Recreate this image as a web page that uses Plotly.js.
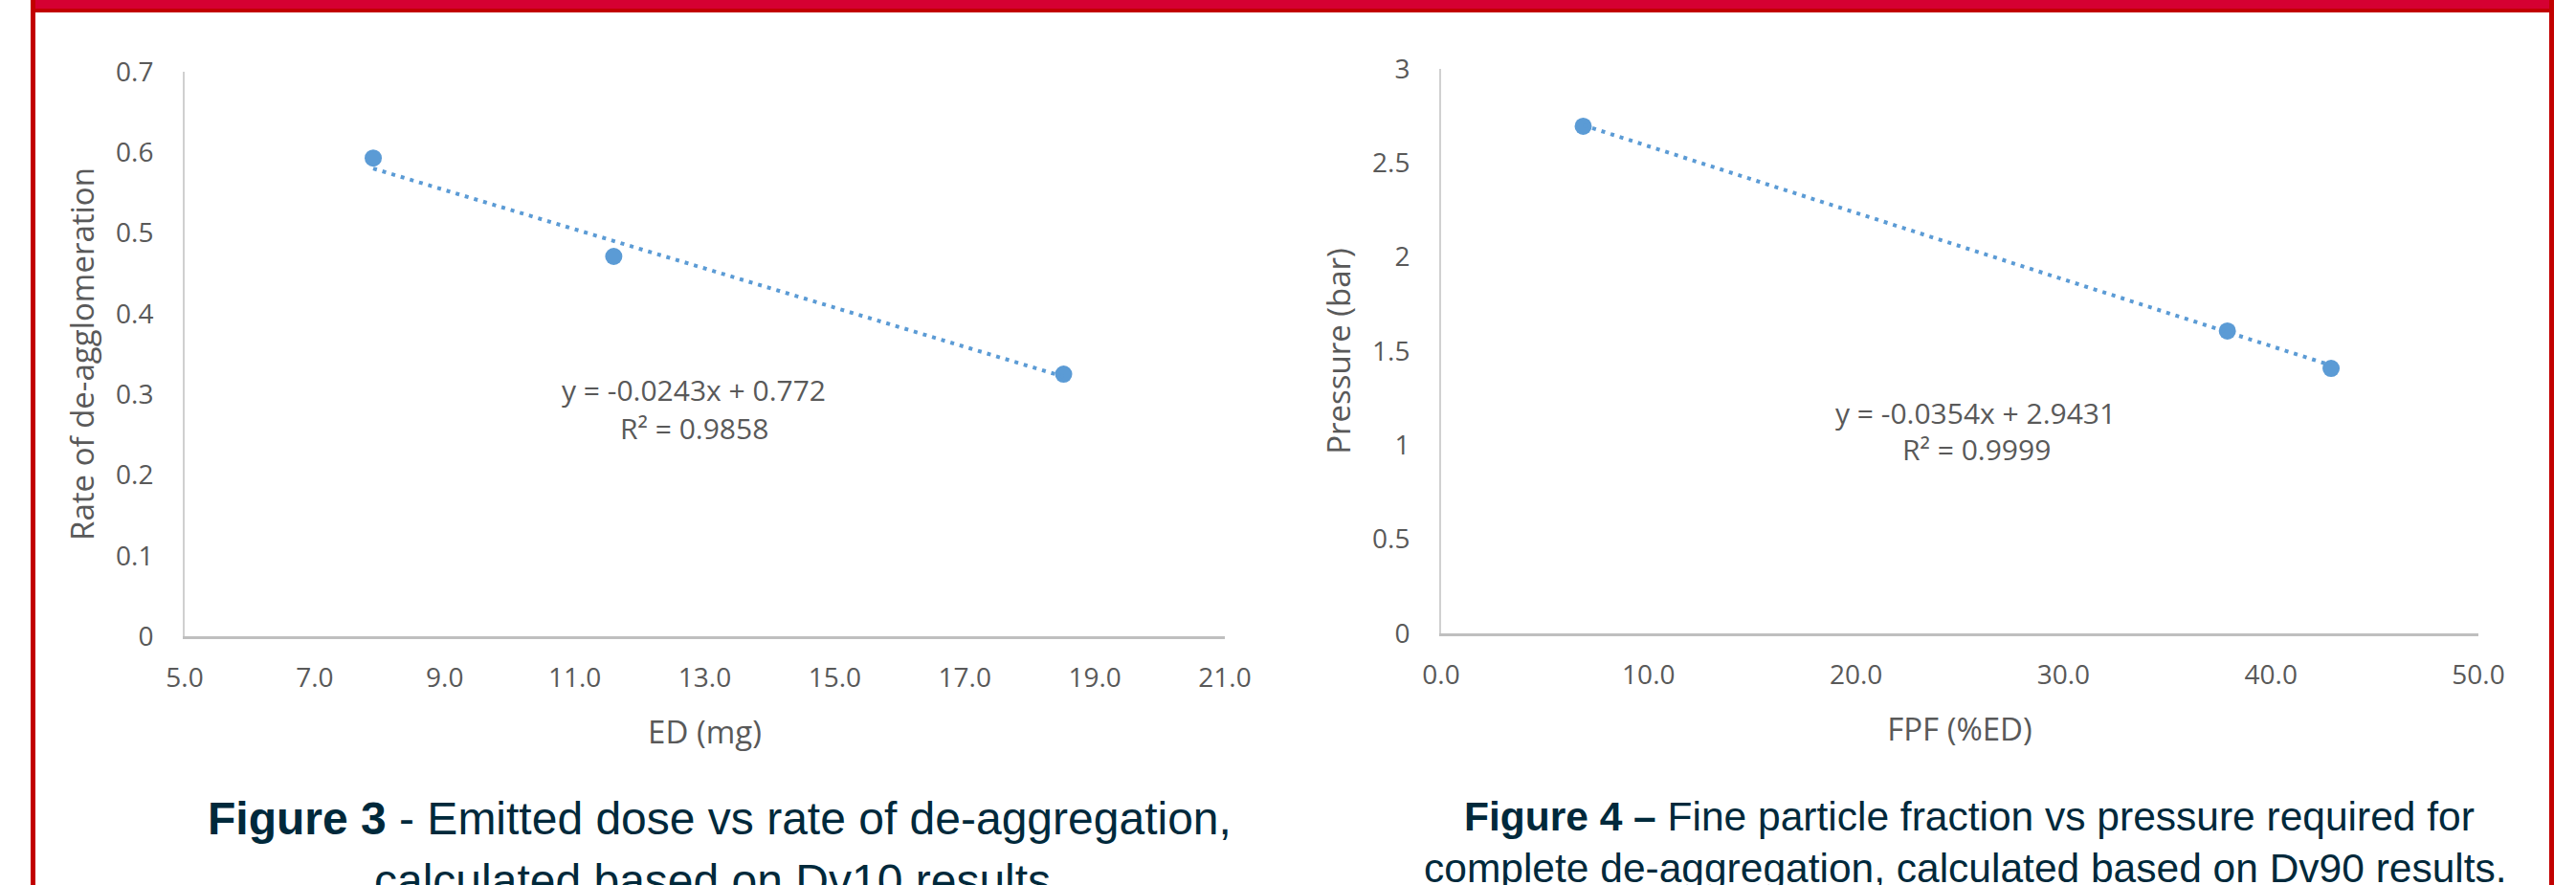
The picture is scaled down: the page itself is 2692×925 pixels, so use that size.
<!DOCTYPE html>
<html>
<head>
<meta charset="utf-8">
<script src="https://cdn.plot.ly/plotly-3.0.1.min.js"></script>
<style>
  html, body { margin: 0; padding: 0; background: #ffffff; }
  #chart { width: 2692px; height: 925px; }
</style>
</head>
<body>
<div id="chart"></div>
<script>
// ---------- data ----------
// Figure 3
const edMg = [7.9, 11.6, 18.52];
const deaggRate = [0.593, 0.471, 0.325];
const fig3Slope = -0.0243;
const fig3Intercept = 0.772;
const fig3R2 = 0.9858;
const fig3XTicks = [5, 7, 9, 11, 13, 15, 17, 19, 21];
const fig3YTicks = [0, 0.1, 0.2, 0.3, 0.4, 0.5, 0.6, 0.7];

// Figure 4
const fpfPct = [6.85, 37.9, 42.9];
const pressureBar = [2.695, 1.607, 1.408];
const fig4Slope = -0.0354;
const fig4Intercept = 2.9431;
const fig4R2 = 0.9999;
const fig4XTicks = [0, 10, 20, 30, 40, 50];
const fig4YTicks = [0, 0.5, 1, 1.5, 2, 2.5, 3];

// Text
const fig3XTitle = 'ED (mg)';
const fig3YTitle = 'Rate of de-agglomeration';
const fig4XTitle = 'FPF (%ED)';
const fig4YTitle = 'Pressure (bar)';
const fig3CaptionBold = 'Figure 3';
const fig3CaptionLine1 = ' - Emitted dose vs rate of de-aggregation,';
const fig3CaptionLine2 = 'calculated based on Dv10 results.';
const fig4CaptionBold = 'Figure 4 \u2013';
const fig4CaptionLine1 = ' Fine particle fraction vs pressure required for';
const fig4CaptionLine2 = 'complete de-aggregation, calculated based on Dv90 results.';

// ---------- helpers ----------
const W = 2692, H = 925;
const px = x => x / W;
const py = y => 1 - y / H;

function trend(xs, slope, intercept) {
  const lo = Math.min(...xs), hi = Math.max(...xs);
  return { x: [lo, hi], y: [slope * lo + intercept, slope * hi + intercept] };
}
function eqText(slope, intercept) {
  const sign = intercept >= 0 ? '+' : '-';
  return 'y = ' + slope + 'x ' + sign + ' ' + Math.abs(intercept);
}

const blue = '#5b9bd5';
const gray = '#595959';
const tickFont = { family: 'Open Sans, Noto Sans, sans-serif', size: 28, color: gray };
const titleFont = { family: 'Open Sans, Noto Sans, sans-serif', size: 33, color: gray };
const eqFont = { family: 'Open Sans, Noto Sans, sans-serif', size: 30, color: gray };
const capColor = '#00293b';
const capFamily = 'Liberation Sans, Arial, sans-serif';

const t3 = trend(edMg, fig3Slope, fig3Intercept);
const t4 = trend(fpfPct, fig4Slope, fig4Intercept);

const traces = [
  { type: 'scatter', mode: 'markers', x: edMg, y: deaggRate, xaxis: 'x', yaxis: 'y',
    marker: { color: blue, size: 18, line: { width: 0 } }, hoverinfo: 'x+y' },
  { type: 'scatter', mode: 'lines', x: t3.x, y: t3.y, xaxis: 'x', yaxis: 'y',
    line: { color: blue, width: 4, dash: '4px,6px' }, hoverinfo: 'skip' },
  { type: 'scatter', mode: 'markers', x: fpfPct, y: pressureBar, xaxis: 'x2', yaxis: 'y2',
    marker: { color: blue, size: 18, line: { width: 0 } }, hoverinfo: 'x+y' },
  { type: 'scatter', mode: 'lines', x: t4.x, y: t4.y, xaxis: 'x2', yaxis: 'y2',
    line: { color: blue, width: 4, dash: '4px,6px' }, hoverinfo: 'skip' }
];

const baseX = {
  showgrid: false, zeroline: false, showline: true, linecolor: '#bfbfbf', linewidth: 3,
  ticks: '', tickfont: tickFont, tickformat: '.1f', ticklabelstandoff: 16, fixedrange: true
};
const baseY = {
  showgrid: false, zeroline: false, showline: true, linecolor: '#d0d0d0', linewidth: 2,
  ticks: '', tickfont: tickFont, ticklabelstandoff: 25, fixedrange: true
};

const layout = {
  width: W, height: H,
  margin: { l: 0, r: 0, t: 0, b: 0, pad: 0 },
  paper_bgcolor: '#ffffff', plot_bgcolor: '#ffffff',
  showlegend: false,
  font: { family: 'Open Sans, Noto Sans, sans-serif', color: gray },
  xaxis: Object.assign({}, baseX, {
    domain: [px(193), px(1280)], range: [5, 21], tickvals: fig3XTicks, anchor: 'y',
    title: { text: fig3XTitle, font: titleFont, standoff: 30 }
  }),
  yaxis: Object.assign({}, baseY, {
    domain: [py(665), py(75)], range: [0, 0.7], tickvals: fig3YTicks, anchor: 'x',
    title: { text: fig3YTitle, font: titleFont, standoff: 12 }
  }),
  xaxis2: Object.assign({}, baseX, {
    domain: [px(1506), px(2590)], range: [0, 50], tickvals: fig4XTicks, anchor: 'y2',
    title: { text: fig4XTitle, font: titleFont, standoff: 30 }
  }),
  yaxis2: Object.assign({}, baseY, {
    domain: [py(662), py(72)], range: [0, 3], tickvals: fig4YTicks, anchor: 'x2',
    title: { text: fig4YTitle, font: titleFont, standoff: 12 }
  }),
  shapes: [
    { type: 'rect', xref: 'paper', yref: 'paper', x0: px(32), x1: px(2669), y0: py(9), y1: 1,
      fillcolor: '#d50032', line: { width: 0 } },
    { type: 'rect', xref: 'paper', yref: 'paper', x0: px(32), x1: px(2669), y0: py(13), y1: py(9),
      fillcolor: '#c20000', line: { width: 0 } },
    { type: 'rect', xref: 'paper', yref: 'paper', x0: px(32), x1: px(37), y0: 0, y1: 1,
      fillcolor: '#c20000', line: { width: 0 } },
    { type: 'rect', xref: 'paper', yref: 'paper', x0: px(2664), x1: px(2669), y0: 0, y1: 1,
      fillcolor: '#c20000', line: { width: 0 } }
  ],
  annotations: [
    { xref: 'paper', yref: 'paper', x: px(725), y: py(408), text: eqText(fig3Slope, fig3Intercept),
      showarrow: false, font: eqFont, xanchor: 'center', yanchor: 'middle' },
    { xref: 'paper', yref: 'paper', x: px(725), y: py(448), text: 'R\u00b2 = ' + fig3R2,
      showarrow: false, font: eqFont, xanchor: 'center', yanchor: 'middle' },
    { xref: 'paper', yref: 'paper', x: px(2064), y: py(431), text: eqText(fig4Slope, fig4Intercept),
      showarrow: false, font: eqFont, xanchor: 'center', yanchor: 'middle' },
    { xref: 'paper', yref: 'paper', x: px(2065), y: py(469), text: 'R\u00b2 = ' + fig4R2,
      showarrow: false, font: eqFont, xanchor: 'center', yanchor: 'middle' },

    { xref: 'paper', yref: 'paper', x: px(752), y: py(855),
      text: '<b>' + fig3CaptionBold + '</b>' + fig3CaptionLine1,
      showarrow: false, xanchor: 'center', yanchor: 'middle',
      font: { family: capFamily, size: 48, color: capColor } },
    { xref: 'paper', yref: 'paper', x: px(751), y: py(920), text: fig3CaptionLine2,
      showarrow: false, xanchor: 'center', yanchor: 'middle',
      font: { family: capFamily, size: 48, color: capColor } },
    { xref: 'paper', yref: 'paper', x: px(2058), y: py(853),
      text: '<b>' + fig4CaptionBold + '</b>' + fig4CaptionLine1,
      showarrow: false, xanchor: 'center', yanchor: 'middle',
      font: { family: capFamily, size: 42.5, color: capColor } },
    { xref: 'paper', yref: 'paper', x: px(2054), y: py(907), text: fig4CaptionLine2,
      showarrow: false, xanchor: 'center', yanchor: 'middle',
      font: { family: capFamily, size: 42.5, color: capColor } }
  ]
};

Plotly.newPlot('chart', traces, layout, { displayModeBar: false, staticPlot: true });
</script>
</body>
</html>
